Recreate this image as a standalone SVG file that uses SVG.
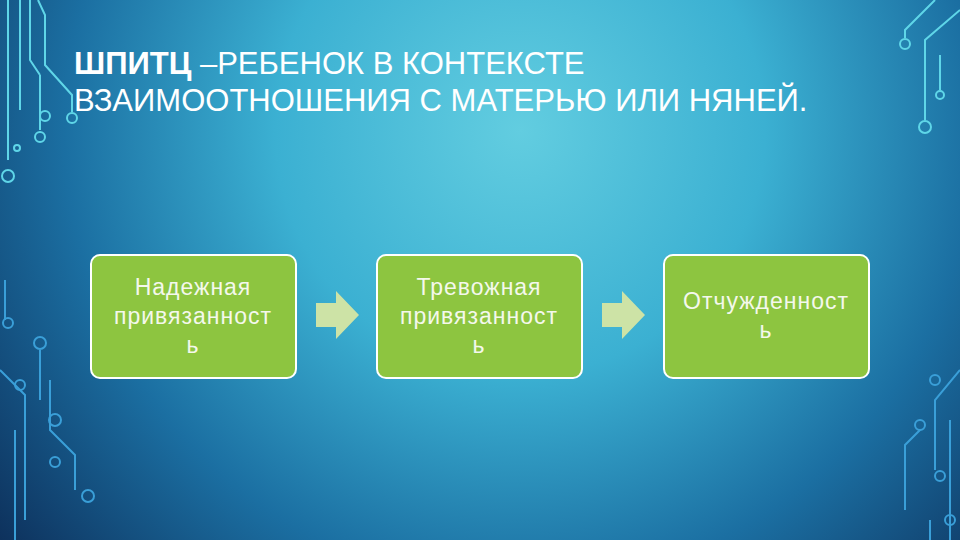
<svg xmlns="http://www.w3.org/2000/svg" width="960" height="540" viewBox="0 0 960 540">
<defs>
<radialGradient id="bg" cx="520" cy="130" r="700" gradientUnits="userSpaceOnUse">
<stop offset="0" stop-color="#62cde0"/>
<stop offset="0.35" stop-color="#3bb0d2"/>
<stop offset="0.65" stop-color="#1b6fa2"/>
<stop offset="1" stop-color="#0b2650"/>
</radialGradient>
<style>
.box{fill:#8dc540;stroke:#ffffff;stroke-width:2}
.t{font-family:"Liberation Sans",Arial,sans-serif;font-size:23px;letter-spacing:1px;fill:#f4f8ec;text-anchor:middle}
.h{font-family:"Liberation Sans",Arial,sans-serif;font-size:31px;fill:#ffffff}
.arr{fill:#cde3a6}
.c{fill:none;stroke:#5fd6e8;stroke-width:2}
.c2{fill:none;stroke:#3a9fd8;stroke-width:2}
</style>
</defs>
<rect width="960" height="540" fill="url(#bg)"/>
<g id="circuits">
<path class="c" d="M8 0V160M20 0V110M30 0V60L40 75M38 0L45 15V65L72 95V112M40 75V130M45 15V28"/>
<circle class="c" cx="72" cy="118" r="5"/><circle class="c" cx="45" cy="116" r="5"/><circle class="c" cx="40" cy="137" r="5"/><circle class="c" cx="8" cy="176" r="6"/><circle class="c" cx="17" cy="148" r="3"/>
<path class="c" d="M960 10L925 40V120M935 0L905 30V38M940 55V90"/>
<circle class="c" cx="905" cy="44" r="5"/><circle class="c" cx="925" cy="127" r="6"/><circle class="c" cx="940" cy="95" r="4"/>
<path class="c2" d="M0 370L25 395V520M40 350V400M50 380V430L75 455V490M15 430V540M5 280V320"/>
<circle class="c2" cx="40" cy="343" r="6"/><circle class="c2" cx="55" cy="420" r="6"/><circle class="c2" cx="55" cy="462" r="5"/><circle class="c2" cx="88" cy="496" r="6"/><circle class="c2" cx="8" cy="323" r="5"/><circle class="c2" cx="20" cy="385" r="5"/>
<path class="c2" d="M960 370L935 400V470M950 420V540M920 430L905 445V510M930 520V540"/>
<circle class="c2" cx="935" cy="380" r="5"/><circle class="c2" cx="920" cy="425" r="5"/><circle class="c2" cx="940" cy="476" r="5"/><circle class="c2" cx="950" cy="520" r="5"/>
</g>
<g id="title">
<text class="h" x="74" y="74"><tspan font-weight="bold">ШПИТЦ</tspan> –РЕБЕНОК В КОНТЕКСТЕ</text>
<text class="h" x="74" y="111">ВЗАИМООТНОШЕНИЯ С МАТЕРЬЮ ИЛИ НЯНЕЙ.</text>
</g>
<g id="node1"><rect class="box" x="91" y="255" width="205" height="123" rx="9"/>
<text class="t" x="193" y="295">Надежная</text><text class="t" x="193" y="324">привязанност</text><text class="t" x="193" y="353">ь</text></g>
<g id="node2"><rect class="box" x="377" y="255" width="205" height="123" rx="9"/>
<text class="t" x="479" y="295">Тревожная</text><text class="t" x="479" y="324">привязанност</text><text class="t" x="479" y="353">ь</text></g>
<g id="node3"><rect class="box" x="664" y="255" width="205" height="123" rx="9"/>
<text class="t" x="766" y="309">Отчужденност</text><text class="t" x="766" y="338">ь</text></g>
<g id="connectors">
<polygon class="arr" points="316,303 336,303 336,291 359,315 336,339 336,327 316,327"/>
<polygon class="arr" points="602,303 622,303 622,291 645,315 622,339 622,327 602,327"/>
</g>
</svg>
